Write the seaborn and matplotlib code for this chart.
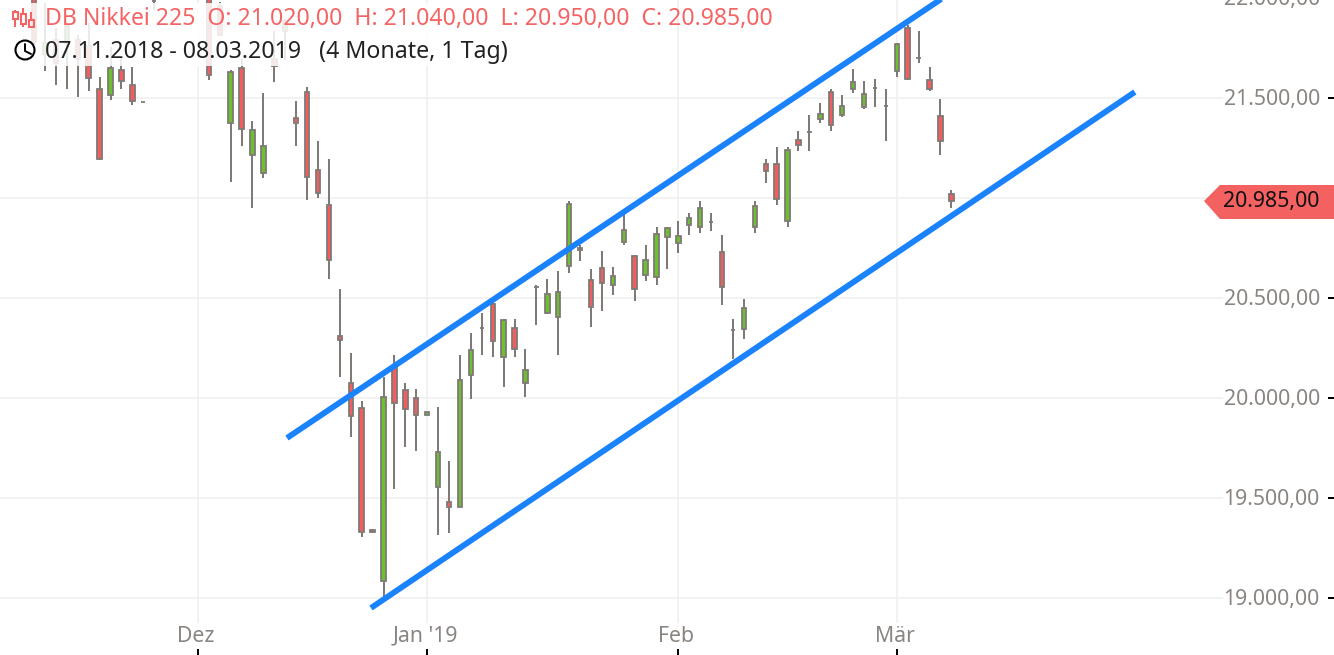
import matplotlib
matplotlib.use('Agg')
import matplotlib.pyplot as plt
from matplotlib.patches import Circle, Polygon, Rectangle
from matplotlib.transforms import ScaledTranslation
import numpy as np
import pandas as pd
import seaborn as sns

# handelstage, 0 = erste kerze die man sieht
tage = [-1, 0, 1, 2, 3, 4, 5, 6, 7, 8, 9, 10, 15, 16, 17, 18, 19, 20, 21, 22, 23, 24, 25, 26,
        27, 28, 29, 30, 31, 32, 33, 34, 35, 36, 37, 38, 39, 40, 41, 42, 43, 44, 45, 46, 47,
        48, 49, 50, 51, 52, 53, 54, 55, 56, 57, 58, 59, 60, 61, 62, 63, 64, 65, 66, 67, 68,
        69, 70, 71, 72, 73, 74, 75, 76, 77, 78, 79, 80, 81, 82, 83]
eroeffnung = [22080, 21720, 21790, 21775, 21790, 21760, 21545, 21515, 21640, 21565, 21482, 21987,
              22100, 21960, 21375, 21650, 21215, 21125, 21695, 21835, 21400, 21530, 21140, 20965,
              20310, 20075, 19950, 19340, 19085, 20160, 20040, 20000, 19915, 19555, 19480, 19455,
              20115, 20352, 20470, 20205, 20350, 20075, 20557, 20425, 20405, 20660, 20750, 20590,
              20650, 20565, 20780, 20710, 20615, 20605, 20805, 20775, 20865, 20855, 20882, 20730,
              20342, 20345, 20855, 21170, 21170, 20885, 21290, 21332, 21395, 21530, 21415, 21545,
              21455, 21552, 21462, 21635, 21850, 21702, 21590, 21410, 21020]
schluss = [21780, 21775, 21675, 21860, 21695, 21600, 21195, 21650, 21585, 21485, 21478, 21983,
           21615, 21815, 21630, 21345, 21340, 21260, 21660, 21885, 21375, 21105, 21025, 20690,
           20290, 19910, 19330, 19330, 20005, 19975, 19945, 19915, 19930, 19730, 19455, 20090,
           20240, 20348, 20285, 20390, 20245, 20140, 20553, 20520, 20530, 20970, 20740, 20455,
           20575, 20610, 20840, 20545, 20690, 20820, 20850, 20810, 20900, 20950, 20878, 20555,
           20338, 20450, 20960, 21135, 20995, 21240, 21265, 21328, 21420, 21365, 21460, 21580,
           21520, 21548, 21458, 21770, 21595, 21698, 21545, 21285, 20985]
hoch = [22100, 21975, 21850, 21880, 21815, 21875, 21605, 21755, 21700, 21655, 21482, 21995,
        22120, 21980, 21640, 21695, 21385, 21525, 21835, 21895, 21485, 21555, 21285, 21195,
        20545, 20225, 19985, 19340, 20105, 20215, 20075, 20045, 19930, 19955, 19685, 20215,
        20325, 20425, 20480, 20395, 20395, 20245, 20565, 20595, 20635, 20985, 20765, 20645,
        20735, 20655, 20930, 20715, 20765, 20855, 20855, 20885, 20925, 20985, 20925, 20815,
        20395, 20495, 20985, 21195, 21255, 21255, 21335, 21415, 21475, 21545, 21515, 21645,
        21585, 21595, 21545, 21775, 21865, 21835, 21655, 21495, 21040]
tief = [21760, 21635, 21565, 21545, 21505, 21535, 21190, 21490, 21545, 21465, 21478, 21940,
        21590, 21810, 21080, 21260, 20950, 21100, 21580, 21690, 21260, 20990, 21000, 20595,
        20105, 19805, 19305, 19330, 19000, 19545, 19755, 19735, 19915, 19315, 19325, 19455,
        19995, 20215, 20205, 20055, 20205, 20005, 20365, 20420, 20215, 20625, 20685, 20355,
        20435, 20515, 20765, 20485, 20585, 20565, 20645, 20725, 20815, 20825, 20835, 20465,
        20195, 20295, 20825, 21075, 20965, 20855, 21235, 21235, 21375, 21335, 21405, 21525,
        21445, 21455, 21285, 21605, 21590, 21675, 21535, 21215, 20950]

kanal_oben_x = [22.16, 83.3]
kanal_oben_y = [19800, 22040]
kanal_unten_x = [29.85, 99.8]
kanal_unten_y = [18950, 21530]

y_ticks = [19000, 19500, 20000, 20500, 21000, 21500, 22000]
y_labels = ['19.000,00', '19.500,00', '20.000,00', '20.500,00', '21.000,00', '21.500,00', '22.000,00']
x_ticks = [14, 35, 58, 78]
x_labels = ['Dez', "Jan '19", 'Feb', 'Mär']

rot = '#f45d5d'
gruen = '#6cc02e'
rand = '#7f7a76'
blau = '#1a82fb'
gitter = '#f0efef'
grau = '#8a8581'

sns.set_theme(style='white')
plt.rcParams['font.family'] = ['Noto Sans', 'DejaVu Sans']

df = pd.DataFrame({'tag': tage, 'o': eroeffnung, 'h': hoch, 'l': tief, 'c': schluss})
df['unten'] = df[['o', 'c']].min(axis=1)
df['hoehe'] = (df['o'] - df['c']).abs()

fig = plt.figure(figsize=(13.34, 6.55), dpi=100)
ax = fig.add_axes([0, 0, 1, 659 / 655])

ax.hlines(y_ticks, -5, 107.9, color=gitter, linewidth=1.1, zorder=0)
ax.vlines(x_ticks, 18875, 22010, color=gitter, linewidth=1.1, zorder=0)

# dochte
dochte = pd.concat([df[['tag', 'h']].rename(columns={'h': 'kurs'}),
                    df[['tag', 'l']].rename(columns={'l': 'kurs'})])
sns.lineplot(data=dochte, x='tag', y='kurs', units='tag', estimator=None,
             color=rand, linewidth=1.44, legend=False, ax=ax, solid_capstyle='butt')

# koerper
steigend = df[df['c'] >= df['o']]
fallend = df[df['c'] < df['o']]
for teil, farbe in [(steigend, gruen), (fallend, rot)]:
    sns.barplot(x=teil['tag'].values, y=teil['hoehe'].values, bottom=teil['unten'].values,
                native_scale=True, errorbar=None, width=0.4, color=farbe, saturation=1,
                edgecolor=rand, linewidth=1.3, ax=ax, zorder=3)

sns.lineplot(x=kanal_oben_x, y=kanal_oben_y, color=blau, linewidth=4.2, estimator=None,
             ax=ax, solid_capstyle='butt', zorder=5)
sns.lineplot(x=kanal_unten_x, y=kanal_unten_y, color=blau, linewidth=4.2, estimator=None,
             ax=ax, solid_capstyle='butt', zorder=5)

ax.set_xlim(-45 / 10.92, 1289 / 10.92)
ax.set_ylim(18715, 22010)
ax.set_xlabel('')
ax.set_ylabel('')
sns.despine(ax=ax, left=True, bottom=True)
ax.yaxis.tick_right()
ax.set_xticks(x_ticks, x_labels)
ax.set_yticks(y_ticks, y_labels)
ax.tick_params(axis='y', direction='in', length=4.3, width=1.44, color='black', labelcolor=grau,
               pad=-79.5, labelsize=15.3, right=True)
ax.tick_params(axis='x', direction='in', length=4.3, width=1.44, color='black', labelcolor=grau,
               pad=-21, labelsize=15.3, bottom=True)

# labels im original leicht versetzt
for label in ax.get_xticklabels():
    label.set_transform(label.get_transform() + ScaledTranslation(-0.02, 0, fig.dpi_scale_trans))
for label in ax.get_yticklabels():
    label.set_transform(label.get_transform() + ScaledTranslation(0, 0.01, fig.dpi_scale_trans))

# obere ebene in pixeln: legende und kursfahne
top = fig.add_axes([0, 0, 1, 1])
top.set_xlim(0, 1334)
top.set_ylim(655, 0)
top.axis('off')

top.add_patch(Rectangle((0, 3), 520, 63, facecolor='white', alpha=0.85, edgecolor='none'))
top.text(45, 19.5, 'DB Nikkei 225  O: 21.020,00  H: 21.040,00  L: 20.950,00  C: 20.985,00',
         color='#f56464', fontsize=16.6, va='center', ha='left')
top.text(45, 51.5, '07.11.2018 - 08.03.2019   (4 Monate, 1 Tag)',
         color='#222222', fontsize=16.7, va='center', ha='left')

# symbol kerzen
for x, y1, y2, k1, k2 in [(15, 10, 27, 12, 19), (23, 8, 27, 14, 24), (31, 12, 28, 20, 27)]:
    top.plot([x, x], [y1, k1], color='#f56464', lw=1.5, solid_capstyle='butt')
    top.plot([x, x], [k2, y2], color='#f56464', lw=1.5, solid_capstyle='butt')
    top.add_patch(Rectangle((x - 2.5, k1), 5, k2 - k1, fill=False, edgecolor='#f56464', lw=1.5))

# symbol uhr
top.add_patch(Circle((25, 50), 9.5, fill=False, edgecolor='black', lw=1.5))
top.plot([25, 25, 31], [44, 51, 54], color='black', lw=1.4)

top.add_patch(Polygon([(1204, 201), (1220, 185), (1334, 185), (1334, 219), (1220, 219)],
                      closed=True, facecolor='#f36161', edgecolor='none'))
top.text(1223.5, 201.5, '20.985,00', color='#111111', fontsize=15.3, va='center', ha='left')

fig.savefig('out.png', dpi=100)
